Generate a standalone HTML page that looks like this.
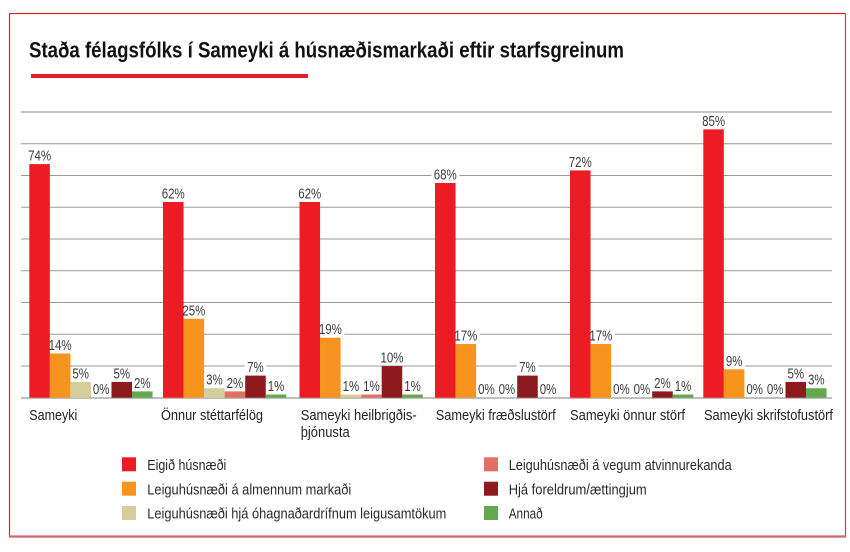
<!DOCTYPE html>
<html><head><meta charset="utf-8"><style>
html,body{margin:0;padding:0;background:#fff;}
svg{display:block;}
text{font-family:"Liberation Sans",Arial,sans-serif;}
.v{font-size:14.5px;fill:#3c3c3c;}
.c{font-size:14.5px;fill:#222;}
.l{font-size:14.5px;fill:#2a2a2a;}
</style></head><body>
<svg width="850" height="552" viewBox="0 0 850 552" xmlns="http://www.w3.org/2000/svg">
<rect x="0" y="0" width="850" height="552" fill="#fff"/>
<!-- frame -->
<line x1="9.5" y1="13.5" x2="845.5" y2="13.5" stroke="#d22a33" stroke-width="1.2"/>
<line x1="9.5" y1="13.5" x2="9.5" y2="537" stroke="#d22a33" stroke-width="1.2"/>
<line x1="845.5" y1="13.5" x2="845.5" y2="537" stroke="#d23a40" stroke-width="1.2"/>
<line x1="9" y1="536.5" x2="846" y2="536.5" stroke="#cc6670" stroke-width="2.2"/>

<!-- title -->
<text x="29" y="57.5" font-size="22" font-weight="bold" fill="#111" textLength="595" lengthAdjust="spacingAndGlyphs">Staða félagsfólks í Sameyki á húsnæðismarkaði eftir starfsgreinum</text>
<rect x="31" y="74" width="277" height="4" fill="#e41d25"/>

<!-- gridlines -->
<g stroke="#9a9a9a" stroke-width="1">
<line x1="21" y1="366" x2="832" y2="366"/>
<line x1="21" y1="334.2" x2="832" y2="334.2"/>
<line x1="21" y1="302.5" x2="832" y2="302.5"/>
<line x1="21" y1="270.7" x2="832" y2="270.7"/>
<line x1="21" y1="239" x2="832" y2="239"/>
<line x1="21" y1="207.3" x2="832" y2="207.3"/>
<line x1="21" y1="175.5" x2="832" y2="175.5"/>
<line x1="21" y1="143.8" x2="832" y2="143.8"/>
</g>
<line x1="21" y1="112" x2="832" y2="112" stroke="#bdbdbd" stroke-width="1.8"/>
<line x1="21" y1="398" x2="832" y2="398" stroke="#b5b5b5" stroke-width="1.8"/>

<!-- label backgrounds -->
<g fill="#fff">
<rect x="25.6" y="149.1" width="28" height="13.5"/>
<rect x="46.1" y="338.5" width="28" height="13.5"/>
<rect x="69.9" y="366.9" width="21.6" height="13.5"/>
<rect x="90.4" y="382.7" width="21.6" height="13.5"/>
<rect x="111" y="366.9" width="21.6" height="13.5"/>
<rect x="131.5" y="376.4" width="21.6" height="13.5"/>

<rect x="159.3" y="187" width="28" height="13.5"/>
<rect x="179.8" y="303.8" width="28" height="13.5"/>
<rect x="203.6" y="373.2" width="21.6" height="13.5"/>
<rect x="224.1" y="376.4" width="21.6" height="13.5"/>
<rect x="244.7" y="360.6" width="21.6" height="13.5"/>
<rect x="265.2" y="379.5" width="21.6" height="13.5"/>

<rect x="295.8" y="187" width="28" height="13.5"/>
<rect x="316.3" y="322.7" width="28" height="13.5"/>
<rect x="340.1" y="379.5" width="21.6" height="13.5"/>
<rect x="360.6" y="379.5" width="21.6" height="13.5"/>
<rect x="378" y="351.1" width="28" height="13.5"/>
<rect x="401.7" y="379.5" width="21.6" height="13.5"/>

<rect x="431.3" y="168" width="28" height="13.5"/>
<rect x="451.8" y="329" width="28" height="13.5"/>
<rect x="475.6" y="382.7" width="21.6" height="13.5"/>
<rect x="496.1" y="382.7" width="21.6" height="13.5"/>
<rect x="516.7" y="360.6" width="21.6" height="13.5"/>
<rect x="537.2" y="382.7" width="21.6" height="13.5"/>

<rect x="566.3" y="155.4" width="28" height="13.5"/>
<rect x="586.8" y="329" width="28" height="13.5"/>
<rect x="610.6" y="382.7" width="21.6" height="13.5"/>
<rect x="631.1" y="382.7" width="21.6" height="13.5"/>
<rect x="651.7" y="376.4" width="21.6" height="13.5"/>
<rect x="672.2" y="379.5" width="21.6" height="13.5"/>

<rect x="699.6" y="114.4" width="28" height="13.5"/>
<rect x="723.3" y="354.3" width="21.6" height="13.5"/>
<rect x="743.9" y="382.7" width="21.6" height="13.5"/>
<rect x="764.4" y="382.7" width="21.6" height="13.5"/>
<rect x="785" y="366.9" width="21.6" height="13.5"/>
<rect x="805.5" y="373.2" width="21.6" height="13.5"/>
</g>

<!-- bars -->
<!-- G1 -->
<rect x="29.3" y="164.08" width="20.55" height="233.62" fill="#ed1c24"/>
<rect x="49.85" y="353.5" width="20.55" height="44.2" fill="#f7941e"/>
<rect x="70.4" y="381.91" width="20.55" height="15.79" fill="#d5cd9c"/>
<rect x="111.5" y="381.91" width="20.55" height="15.79" fill="#8d1a1d"/>
<rect x="132.05" y="391.39" width="20.55" height="6.31" fill="#63a84f"/>
<!-- G2 -->
<rect x="163" y="201.97" width="20.55" height="195.73" fill="#ed1c24"/>
<rect x="183.55" y="318.77" width="20.55" height="78.93" fill="#f7941e"/>
<rect x="204.1" y="388.23" width="20.55" height="9.47" fill="#d5cd9c"/>
<rect x="224.65" y="391.39" width="20.55" height="6.31" fill="#e07065"/>
<rect x="245.2" y="375.6" width="20.55" height="22.1" fill="#8d1a1d"/>
<rect x="265.75" y="394.54" width="20.55" height="3.16" fill="#63a84f"/>
<!-- G3 -->
<rect x="299.5" y="201.97" width="20.55" height="195.73" fill="#ed1c24"/>
<rect x="320.05" y="337.72" width="20.55" height="59.98" fill="#f7941e"/>
<rect x="340.6" y="394.54" width="20.55" height="3.16" fill="#d5cd9c"/>
<rect x="361.15" y="394.54" width="20.55" height="3.16" fill="#e07065"/>
<rect x="381.7" y="366.13" width="20.55" height="31.57" fill="#8d1a1d"/>
<rect x="402.25" y="394.54" width="20.55" height="3.16" fill="#63a84f"/>
<!-- G4 -->
<rect x="435" y="183.02" width="20.55" height="214.68" fill="#ed1c24"/>
<rect x="455.55" y="344.03" width="20.55" height="53.67" fill="#f7941e"/>
<rect x="517.2" y="375.6" width="20.55" height="22.1" fill="#8d1a1d"/>
<!-- G5 -->
<rect x="570" y="170.4" width="20.55" height="227.3" fill="#ed1c24"/>
<rect x="590.55" y="344.03" width="20.55" height="53.67" fill="#f7941e"/>
<rect x="652.2" y="391.39" width="20.55" height="6.31" fill="#8d1a1d"/>
<rect x="672.75" y="394.54" width="20.55" height="3.16" fill="#63a84f"/>
<!-- G6 -->
<rect x="703.3" y="129.35" width="20.55" height="268.35" fill="#ed1c24"/>
<rect x="723.85" y="369.29" width="20.55" height="28.41" fill="#f7941e"/>
<rect x="785.5" y="381.91" width="20.55" height="15.79" fill="#8d1a1d"/>
<rect x="806.05" y="388.23" width="20.55" height="9.47" fill="#63a84f"/>

<!-- value labels -->
<g class="v" text-anchor="middle">
<text x="39.57" y="160.6" textLength="23" lengthAdjust="spacingAndGlyphs">74%</text>
<text x="60.12" y="350" textLength="23" lengthAdjust="spacingAndGlyphs">14%</text>
<text x="80.67" y="378.4" textLength="16.6" lengthAdjust="spacingAndGlyphs">5%</text>
<text x="101.22" y="394.2" textLength="16.6" lengthAdjust="spacingAndGlyphs">0%</text>
<text x="121.77" y="378.4" textLength="16.6" lengthAdjust="spacingAndGlyphs">5%</text>
<text x="142.32" y="387.9" textLength="16.6" lengthAdjust="spacingAndGlyphs">2%</text>

<text x="173.27" y="198.5" textLength="23" lengthAdjust="spacingAndGlyphs">62%</text>
<text x="193.82" y="315.3" textLength="23" lengthAdjust="spacingAndGlyphs">25%</text>
<text x="214.37" y="384.7" textLength="16.6" lengthAdjust="spacingAndGlyphs">3%</text>
<text x="234.92" y="387.9" textLength="16.6" lengthAdjust="spacingAndGlyphs">2%</text>
<text x="255.47" y="372.1" textLength="16.6" lengthAdjust="spacingAndGlyphs">7%</text>
<text x="276.02" y="391" textLength="16.6" lengthAdjust="spacingAndGlyphs">1%</text>

<text x="309.77" y="198.5" textLength="23" lengthAdjust="spacingAndGlyphs">62%</text>
<text x="330.32" y="334.2" textLength="23" lengthAdjust="spacingAndGlyphs">19%</text>
<text x="350.87" y="391" textLength="16.6" lengthAdjust="spacingAndGlyphs">1%</text>
<text x="371.42" y="391" textLength="16.6" lengthAdjust="spacingAndGlyphs">1%</text>
<text x="391.97" y="362.6" textLength="23" lengthAdjust="spacingAndGlyphs">10%</text>
<text x="412.52" y="391" textLength="16.6" lengthAdjust="spacingAndGlyphs">1%</text>

<text x="445.27" y="179.5" textLength="23" lengthAdjust="spacingAndGlyphs">68%</text>
<text x="465.82" y="340.5" textLength="23" lengthAdjust="spacingAndGlyphs">17%</text>
<text x="486.37" y="394.2" textLength="16.6" lengthAdjust="spacingAndGlyphs">0%</text>
<text x="506.92" y="394.2" textLength="16.6" lengthAdjust="spacingAndGlyphs">0%</text>
<text x="527.47" y="372.1" textLength="16.6" lengthAdjust="spacingAndGlyphs">7%</text>
<text x="548.02" y="394.2" textLength="16.6" lengthAdjust="spacingAndGlyphs">0%</text>

<text x="580.27" y="166.9" textLength="23" lengthAdjust="spacingAndGlyphs">72%</text>
<text x="600.82" y="340.5" textLength="23" lengthAdjust="spacingAndGlyphs">17%</text>
<text x="621.37" y="394.2" textLength="16.6" lengthAdjust="spacingAndGlyphs">0%</text>
<text x="641.92" y="394.2" textLength="16.6" lengthAdjust="spacingAndGlyphs">0%</text>
<text x="662.47" y="387.9" textLength="16.6" lengthAdjust="spacingAndGlyphs">2%</text>
<text x="683.02" y="391" textLength="16.6" lengthAdjust="spacingAndGlyphs">1%</text>

<text x="713.57" y="125.9" textLength="23" lengthAdjust="spacingAndGlyphs">85%</text>
<text x="734.12" y="365.8" textLength="16.6" lengthAdjust="spacingAndGlyphs">9%</text>
<text x="754.67" y="394.2" textLength="16.6" lengthAdjust="spacingAndGlyphs">0%</text>
<text x="775.22" y="394.2" textLength="16.6" lengthAdjust="spacingAndGlyphs">0%</text>
<text x="795.77" y="378.4" textLength="16.6" lengthAdjust="spacingAndGlyphs">5%</text>
<text x="816.32" y="384.7" textLength="16.6" lengthAdjust="spacingAndGlyphs">3%</text>
</g>

<!-- category labels -->
<g class="c">
<text x="29.3" y="420" textLength="48" lengthAdjust="spacingAndGlyphs">Sameyki</text>
<text x="161" y="420" textLength="102" lengthAdjust="spacingAndGlyphs">Önnur stéttarfélög</text>
<text x="300.7" y="420" textLength="116" lengthAdjust="spacingAndGlyphs">Sameyki heilbrigðis-</text>
<text x="300.7" y="437" textLength="49" lengthAdjust="spacingAndGlyphs">þjónusta</text>
<text x="435.7" y="420" textLength="120" lengthAdjust="spacingAndGlyphs">Sameyki fræðslustörf</text>
<text x="570" y="420" textLength="115" lengthAdjust="spacingAndGlyphs">Sameyki önnur störf</text>
<text x="704" y="420" textLength="129" lengthAdjust="spacingAndGlyphs">Sameyki skrifstofustörf</text>
</g>

<!-- legend -->
<rect x="122" y="457.3" width="14" height="14" fill="#ed1c24"/>
<rect x="122" y="481.7" width="14" height="14" fill="#f7941e"/>
<rect x="122" y="506" width="14" height="14" fill="#d5cd9c"/>
<rect x="484" y="457.3" width="14" height="14" fill="#e07065"/>
<rect x="484" y="481.7" width="14" height="14" fill="#8d1a1d"/>
<rect x="484" y="506" width="14" height="14" fill="#63a84f"/>
<g class="l">
<text x="147.3" y="470" textLength="79" lengthAdjust="spacingAndGlyphs">Eigið húsnæði</text>
<text x="147.3" y="494.4" textLength="204" lengthAdjust="spacingAndGlyphs">Leiguhúsnæði á almennum markaði</text>
<text x="147.3" y="518.7" textLength="299" lengthAdjust="spacingAndGlyphs">Leiguhúsnæði hjá óhagnaðardrífnum leigusamtökum</text>
<text x="508.7" y="470" textLength="223" lengthAdjust="spacingAndGlyphs">Leiguhúsnæði á vegum atvinnurekanda</text>
<text x="508.7" y="494.4" textLength="138" lengthAdjust="spacingAndGlyphs">Hjá foreldrum/ættingjum</text>
<text x="508.7" y="518.7" textLength="34" lengthAdjust="spacingAndGlyphs">Annað</text>
</g>
</svg>
</body></html>
